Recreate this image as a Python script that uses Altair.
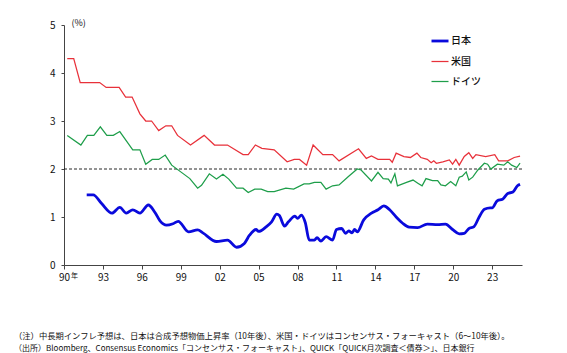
import altair as alt
import pandas as pd

FONT = "Noto Sans CJK JP"

series_names = ["日本", "米国", "ドイツ"]
series_colors = ["#0a0adc", "#e8313a", "#1e9e4a"]
series_widths = [2.8, 1.25, 1.25]

x_ticks = [1990, 1993, 1996, 1999, 2002, 2005, 2008, 2011, 2014, 2017, 2020, 2023]
y_ticks = [0, 1, 2, 3, 4, 5]
target_line = [2]

jp_x = [1991.75, 1992.25, 1992.9, 1993.7, 1994.3, 1994.8, 1995.3, 1995.85, 1996.5, 1997.0,
        1997.4, 1997.9, 1998.4, 1998.8, 1999.6, 2000.3, 2000.7, 2001.75, 2002.6, 2003.3,
        2003.9, 2004.3, 2004.8, 2005.0, 2005.6, 2006.0, 2006.4, 2006.6, 2007.0, 2007.3,
        2007.8, 2008.0, 2008.3, 2008.6, 2008.9, 2009.3, 2009.5, 2009.8, 2010.2, 2010.7,
        2011.0, 2011.4, 2011.7, 2011.95, 2012.2, 2012.4, 2012.6, 2013.1, 2013.7, 2014.2,
        2014.65, 2015.1, 2015.6, 2016.1, 2016.6, 2017.25, 2018.0, 2018.8, 2019.4, 2019.95,
        2020.46, 2020.85, 2021.2, 2021.6, 2022.0, 2022.4, 2022.85, 2023.0, 2023.4, 2023.8,
        2024.2, 2024.6, 2024.95, 2025.15]
jp_y = [1.46, 1.46, 1.28, 1.08, 1.2, 1.08, 1.15, 1.08, 1.25, 1.1,
        0.92, 0.83, 0.86, 0.91, 0.69, 0.73, 0.67, 0.49, 0.52, 0.37,
        0.45, 0.62, 0.74, 0.7, 0.8, 0.9, 1.06, 1.03, 0.81, 0.9,
        1.02, 0.97, 1.04, 0.88, 0.52, 0.52, 0.57, 0.5, 0.59, 0.52,
        0.74, 0.76, 0.66, 0.71, 0.67, 0.74, 0.69, 0.94, 1.08, 1.15,
        1.23, 1.15, 1.0, 0.87, 0.79, 0.78, 0.85, 0.84, 0.85, 0.74,
        0.65, 0.66, 0.76, 0.8, 1.0, 1.16, 1.19, 1.19, 1.34, 1.37,
        1.49, 1.52, 1.65, 1.68]

us_x = [1990.25, 1990.75, 1991.25, 1992.75, 1993.25, 1994.25, 1994.75, 1995.25, 1995.85, 1996.3,
        1996.75, 1997.3, 1997.85, 1998.3, 1998.75, 1999.75, 2000.8, 2001.6, 2002.6, 2003.8,
        2004.2, 2004.75, 2005.25, 2006.2, 2007.2, 2007.75, 2008.15, 2008.7, 2009.2, 2009.95,
        2010.7, 2011.2, 2012.7, 2013.3, 2013.7, 2014.2, 2015.1, 2015.3, 2015.6, 2016.2,
        2016.7, 2017.2, 2017.5, 2018.0, 2018.3, 2018.5, 2018.7, 2019.2, 2019.7, 2019.95,
        2020.2, 2020.46, 2020.85, 2021.2, 2021.5, 2021.75, 2022.5, 2023.2, 2023.5, 2024.2,
        2024.7, 2025.15]
us_y = [4.3, 4.3, 3.8, 3.8, 3.7, 3.7, 3.5, 3.5, 3.15, 3.0,
        3.0, 2.8, 2.9, 2.9, 2.7, 2.5, 2.7, 2.5, 2.5, 2.3,
        2.3, 2.5, 2.43, 2.4, 2.15, 2.2, 2.2, 2.08, 2.5, 2.3,
        2.3, 2.17, 2.42, 2.22, 2.27, 2.2, 2.2, 2.14, 2.33, 2.26,
        2.24, 2.33, 2.24, 2.2, 2.13, 2.17, 2.12, 2.15, 2.19, 2.1,
        2.2, 2.08, 2.26, 2.34, 2.22, 2.3, 2.26, 2.3, 2.17, 2.17,
        2.24, 2.27]

de_x = [1990.25, 1991.3, 1991.8, 1992.3, 1992.8, 1993.3, 1993.8, 1994.3, 1995.3, 1995.85,
        1996.3, 1996.8, 1997.3, 1997.8, 1998.3, 1999.7, 2000.3, 2000.6, 2001.2, 2001.75,
        2002.25, 2002.7, 2003.3, 2003.8, 2004.2, 2004.7, 2005.2, 2005.7, 2006.2, 2007.1,
        2007.7, 2008.5, 2008.9, 2009.3, 2009.8, 2010.2, 2010.7, 2011.2, 2011.9, 2012.6,
        2012.9, 2013.7, 2014.2, 2014.6, 2015.0, 2015.2, 2015.5, 2015.7, 2016.4, 2016.9,
        2017.3, 2017.6, 2017.9, 2018.4, 2018.8, 2019.05, 2019.4, 2019.8, 2020.2, 2020.46,
        2020.7, 2021.0, 2021.2, 2021.5, 2021.9, 2022.4, 2022.65, 2022.9, 2023.4, 2023.9,
        2024.2, 2024.5, 2024.9, 2025.15]
de_y = [2.7, 2.5, 2.7, 2.7, 2.88, 2.7, 2.7, 2.78, 2.4, 2.4,
        2.1, 2.2, 2.2, 2.29, 2.08, 1.8, 1.6, 1.66, 1.9, 1.79,
        1.89, 1.79, 1.6, 1.6, 1.51, 1.58, 1.58, 1.53, 1.53, 1.6,
        1.58, 1.69, 1.69, 1.72, 1.72, 1.58, 1.65, 1.67, 1.84, 2.0,
        1.98, 1.75, 1.93, 1.8, 1.79, 1.71, 1.9, 1.65, 1.72, 1.77,
        1.7, 1.65, 1.8, 1.76, 1.76, 1.67, 1.65, 1.74, 1.65, 1.83,
        1.85, 1.94, 1.77, 1.83, 1.98, 2.12, 2.1, 2.0, 2.1, 2.08,
        2.15, 2.08, 2.03, 2.12]

note1 = "（注）中長期インフレ予想は、日本は合成予想物価上昇率（10年後）、米国・ドイツはコンセンサス・フォーキャスト（6～10年後）。"
note2 = "（出所）Bloomberg、Consensus Economics「コンセンサス・フォーキャスト」、QUICK「QUICK月次調査＜債券＞」、日本銀行"

rows = []
for name, xs, ys in [("日本", jp_x, jp_y), ("米国", us_x, us_y), ("ドイツ", de_x, de_y)]:
    assert len(xs) == len(ys), name
    for a, b in zip(xs, ys):
        rows.append({"year": a, "value": b, "series": name})
df = pd.DataFrame(rows)

W, H = 458, 240

leg = alt.Legend(title=None, orient="none", legendX=366, legendY=6, symbolType="stroke",
                 symbolSize=289, labelFont=FONT, labelFontSize=10, labelFontWeight=500,
                 labelColor="#111111", rowPadding=5, padding=0, labelOffset=1)

x_enc = alt.X("year:Q", title=None,
              scale=alt.Scale(domain=[1990, 2025.3], nice=False, zero=False),
              axis=alt.Axis(values=x_ticks, labelExpr="substring(toString(datum.value), 2, 4)",
                            grid=False, tickSize=4, labelPadding=3, labelFontSize=10,
                            labelFlush=False, labelFont=FONT, labelColor="#111111",
                            domainColor="#444444", tickColor="#444444"))
y_enc = alt.Y("value:Q",
              scale=alt.Scale(domain=[0, 5], nice=False),
              axis=alt.Axis(values=y_ticks, grid=False, tickSize=3, labelPadding=6,
                            labelFontSize=10, labelFont=FONT, labelColor="#111111",
                            labelFlush=False,
                            domainColor="#444444", tickColor="#444444",
                            title="(%)", titleAngle=0, titleX=7, titleY=-3,
                            titleAlign="left", titleBaseline="middle", titleFontSize=9,
                            titleFontWeight="normal", titleFont=FONT, titleColor="#111111"))
color_enc = alt.Color("series:O", scale=alt.Scale(type="ordinal", domain=series_names, range=series_colors), legend=leg)
sw_enc = alt.StrokeWidth("series:O", scale=alt.Scale(type="ordinal", domain=series_names, range=series_widths), legend=leg)

base = alt.Chart(df)
jp_line = base.mark_line(interpolate="monotone").encode(
    x=x_enc, y=y_enc, color=color_enc, strokeWidth=sw_enc
).transform_filter(alt.datum.series == "日本")
other_lines = base.mark_line().encode(
    x=x_enc, y=y_enc, color=color_enc, strokeWidth=sw_enc
).transform_filter(alt.datum.series != "日本")

rule = alt.Chart(pd.DataFrame({"y": target_line})).mark_rule(
    color="#111111", strokeDash=[3, 2], strokeWidth=0.9
).encode(y="y:Q")

nen = alt.Chart(pd.DataFrame({"x": [1990], "t": ["年"]})).mark_text(
    font=FONT, fontSize=7, align="left", baseline="middle", dx=7, color="#111111"
).encode(x="x:Q", y=alt.value(H + 11), text="t:N")

n1 = alt.Chart(pd.DataFrame({"t": [note1]})).mark_text(
    font=FONT, fontSize=8.3, align="left", baseline="middle", color="#111111"
).encode(x=alt.value(-50), y=alt.value(312), text="t:N")
n2 = alt.Chart(pd.DataFrame({"t": [note2]})).mark_text(
    font=FONT, fontSize=8, align="left", baseline="middle", color="#111111"
).encode(x=alt.value(-50), y=alt.value(324), text="t:N")

chart = alt.layer(rule, other_lines, jp_line, nen, n1, n2).properties(
    width=W, height=H,
    autosize=alt.AutoSizeParams(type="none"),
    padding={"left": 64, "top": 25, "right": 45, "bottom": 88},
    background="white",
).configure_view(stroke=None)

chart.save("out.html", embed_options={"renderer": "svg", "actions": False})
